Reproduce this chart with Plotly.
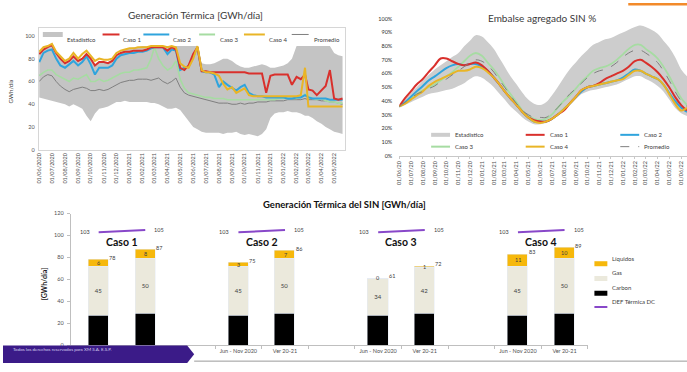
import pandas as pd
import plotly.graph_objects as go

W, H = 687, 372
FONT = "Lato, 'Open Sans', sans-serif"

# ---------------- Generación Térmica diaria [GWh/día] ----------------
meses_gen = pd.date_range("2020-06-01", "2022-05-01", freq="MS")
fechas_gen = [m + pd.Timedelta(days=d) for m in meses_gen for d in (0, 10, 20)]

gen_est_max = [85, 89, 90, 92, 86, 80, 77, 78, 82, 78,
               80, 84, 80, 75, 77, 77, 77, 79, 83, 86,
               88, 89, 90, 90, 91, 91, 91, 91, 91, 91,
               91, 91, 91, 91, 91, 91, 91, 91, 76, 75,
               75, 76, 78, 80, 80, 78, 75, 73, 72, 72,
               73, 74, 75, 74, 72, 72, 73, 74, 76, 80,
               91, 91, 91, 91, 91, 91, 91, 91, 91, 85,
               83, 82]
gen_est_min = [46, 45, 44, 43, 42, 41, 40, 38, 40, 38,
               36, 30, 25, 32, 36, 37, 38, 40, 42, 42,
               43, 42, 42, 42, 42, 42, 41, 41, 40, 38,
               36, 36, 37, 35, 30, 25, 20, 18, 16, 15,
               15, 15, 15, 14, 15, 15, 16, 14, 13, 14,
               13, 12, 14, 18, 28, 32, 33, 33, 34, 33,
               33, 32, 30, 30, 28, 25, 23, 20, 18, 16,
               15, 14]
gen_caso1 = [84, 88, 90, 92, 85, 80, 76, 78, 82, 78,
             80, 84, 80, 74, 77, 77, 76, 78, 83, 85,
             86, 86, 87, 87, 87, 88, 90, 90, 90, 90,
             87, 90, 88, 72, 70, 74, 84, 90, 69, 69,
             68, 68, 68, 68, 68, 68, 68, 68, 68, 67,
             67, 67, 67, 50, 65, 66, 66, 66, 66, 57,
             64, 62, 66, 53, 52, 48, 52, 56, 70, 45,
             44, 45]
gen_caso2 = [77, 85, 87, 88, 80, 74, 72, 75, 78, 74,
             77, 82, 75, 66, 72, 72, 72, 74, 80, 83,
             84, 85, 85, 86, 86, 87, 89, 90, 90, 90,
             84, 88, 87, 70, 72, 73, 82, 90, 69, 68,
             68, 66, 55, 60, 57, 54, 52, 55, 57, 50,
             48, 47, 47, 46, 46, 46, 46, 46, 45, 45,
             46, 46, 48, 46, 45, 45, 45, 45, 44, 44,
             44, 44]
gen_caso3 = [65, 68, 70, 70, 66, 64, 62, 60, 63, 62,
             64, 66, 60, 60, 62, 60, 61, 63, 65, 67,
             68, 68, 70, 70, 71, 72, 80, 90, 80, 74,
             70, 72, 78, 62, 54, 50, 49, 48, 47, 46,
             46, 45, 45, 45, 44, 44, 44, 44, 44, 44,
             44, 44, 44, 44, 44, 44, 45, 45, 45, 45,
             45, 46, 49, 47, 45, 44, 45, 43, 42, 42,
             41, 41]
gen_caso4 = [86, 90, 91, 93, 86, 82, 78, 80, 85, 80,
             84, 87, 82, 78, 80, 79, 79, 80, 85, 87,
             88, 89, 89, 90, 90, 90, 91, 91, 91, 91,
             90, 91, 90, 76, 73, 72, 80, 91, 70, 68,
             68, 67, 65, 58, 53, 55, 50, 52, 54, 48,
             47, 47, 47, 47, 47, 47, 47, 47, 47, 47,
             47, 48, 72, 38, 38, 38, 38, 38, 38, 38,
             38, 38]
gen_promedio = [60, 64, 66, 65, 60, 56, 53, 51, 53, 54,
                55, 54, 52, 52, 53, 52, 53, 55, 57, 59,
                60, 61, 61, 62, 62, 62, 61, 62, 63, 60,
                58, 60, 63, 55, 50, 48, 47, 46, 45, 44,
                43, 42, 41, 41, 41, 40, 40, 41, 40, 41,
                41, 42, 42, 42, 43, 43, 43, 43, 44, 44,
                44, 44, 45, 44, 44, 44, 43, 43, 42, 42,
                41, 40]

# ---------------- Embalse agregado SIN [%] ----------------
meses_emb = pd.date_range("2020-06-01", "2022-06-01", freq="MS")
fechas_emb = [m + pd.Timedelta(days=d) for m in meses_emb for d in (0, 15)]

emb_est_max = [36, 41, 46, 50, 55, 59, 63, 66, 69, 72,
               75, 80, 84, 88, 87, 83, 78, 71, 65, 58,
               52, 46, 41, 38, 37, 39, 44, 50, 57, 63,
               68, 73, 77, 81, 83, 85, 86, 88, 90, 92,
               94, 95, 94, 92, 89, 84, 79, 72, 63, 58]
emb_est_min = [35, 37, 39, 41, 43, 45, 46, 47, 48, 49,
               51, 53, 56, 58, 57, 54, 50, 45, 41, 36,
               32, 28, 25, 23, 23, 24, 26, 29, 33, 37,
               41, 45, 47, 48, 49, 50, 51, 52, 54, 56,
               58, 58, 56, 54, 51, 47, 41, 35, 31, 29]
emb_caso1 = [36, 42, 47, 52, 56, 61, 66, 71, 71, 69,
             67, 66, 67, 68, 66, 62, 57, 52, 47, 42,
             37, 32, 28, 26, 25, 25, 27, 30, 33, 38,
             43, 48, 50, 51, 53, 56, 58, 60, 62, 65,
             69, 70, 68, 65, 61, 56, 50, 43, 37, 33]
emb_caso2 = [36, 39, 43, 47, 51, 55, 58, 61, 64, 66,
             67, 66, 67, 67, 65, 62, 57, 52, 47, 42,
             37, 32, 28, 25, 25, 25, 27, 30, 34, 38,
             43, 47, 50, 51, 52, 53, 54, 55, 57, 60,
             63, 62, 60, 58, 56, 52, 46, 40, 35, 32]
emb_caso3 = [36, 39, 42, 45, 48, 50, 52, 55, 58, 61,
             65, 69, 73, 75, 73, 68, 63, 57, 51, 45,
             39, 33, 29, 27, 26, 27, 30, 35, 40, 44,
             49, 54, 58, 62, 64, 65, 67, 70, 74, 78,
             81, 81, 78, 75, 71, 65, 58, 50, 42, 37]
emb_caso4 = [36, 38, 41, 44, 47, 51, 54, 56, 58, 60,
             62, 62, 63, 65, 64, 61, 57, 52, 47, 42,
             37, 32, 28, 25, 24, 25, 27, 30, 34, 38,
             43, 48, 50, 51, 52, 53, 54, 55, 56, 59,
             62, 62, 60, 58, 56, 52, 45, 38, 33, 35]
emb_promedio = [36, 39, 42, 45, 47, 49, 51, 54, 56, 59,
                62, 65, 68, 70, 69, 66, 61, 55, 50, 44,
                38, 33, 30, 28, 28, 28, 31, 35, 40, 45,
                49, 53, 57, 60, 62, 63, 65, 68, 72, 75,
                77, 77, 75, 72, 68, 62, 55, 47, 40, 36]

# ---------------- Generación Térmica del SIN por caso ----------------
casos = ["Caso 1", "Caso 2", "Caso 3", "Caso 4"]
periodos = ["Jun - Nov 2020", "Ver 20-21"]
carbon = [27, 29, 27, 29, 27, 29, 27, 29]
gas = [45, 50, 45, 50, 34, 42, 45, 50]
liquidos = [6, 8, 3, 7, 0, 1, 11, 10]
def_termica = [103, 105, 103, 105, 103, 105, 103, 105]

# colours
C_EST = "#c4c4c4"
C_EST2 = "#cdcdcd"
C_C1 = "#d9302c"
C_C2 = "#2fa4dd"
C_C3 = "#a6dca2"
C_C4 = "#e9b526"
C_PROM = "#7f7f7f"
C_LIQ = "#f6b80c"
C_GAS = "#ebe9dc"
C_CAR = "#000000"
C_DEF = "#8848c9"


def px(x):
    return x / W


def py(y):
    return 1 - y / H


fig = go.Figure()

# --- top-left: thermal generation ---
fig.add_trace(go.Scatter(x=fechas_gen, y=gen_est_min, mode="lines", line=dict(width=0),
                         showlegend=False, hoverinfo="skip", xaxis="x", yaxis="y"))
fig.add_trace(go.Scatter(x=fechas_gen, y=gen_est_max, mode="lines", line=dict(width=0),
                         fill="tonexty", fillcolor=C_EST, name="Estadístico",
                         showlegend=False, xaxis="x", yaxis="y"))
for serie, color, wd in [(gen_promedio, C_PROM, 1.0), (gen_caso3, C_C3, 1.6),
                         (gen_caso2, C_C2, 2.0), (gen_caso1, C_C1, 2.0),
                         (gen_caso4, C_C4, 2.0)]:
    fig.add_trace(go.Scatter(x=fechas_gen, y=serie, mode="lines",
                             line=dict(color=color, width=wd),
                             showlegend=False, xaxis="x", yaxis="y"))

# --- top-right: reservoir level ---
fig.add_trace(go.Scatter(x=fechas_emb, y=emb_est_min, mode="lines", line=dict(width=0, shape="spline"),
                         showlegend=False, hoverinfo="skip", xaxis="x2", yaxis="y2"))
fig.add_trace(go.Scatter(x=fechas_emb, y=emb_est_max, mode="lines", line=dict(width=0, shape="spline"),
                         fill="tonexty", fillcolor=C_EST2, showlegend=False,
                         xaxis="x2", yaxis="y2"))
for serie, color, wd, dash in [(emb_caso3, C_C3, 1.8, "solid"), (emb_caso2, C_C2, 2.0, "solid"),
                               (emb_caso1, C_C1, 2.0, "solid"), (emb_caso4, C_C4, 2.0, "solid"),
                               (emb_promedio, C_PROM, 1.0, "dash")]:
    fig.add_trace(go.Scatter(x=fechas_emb, y=serie, mode="lines",
                             line=dict(color=color, width=wd, dash=dash, shape="spline"),
                             showlegend=False, xaxis="x2", yaxis="y2"))

# --- bottom: stacked thermal generation per case ---
pos = [3 * i + j for i in range(len(casos)) for j in range(len(periodos))]
totales = [c + g + l for c, g, l in zip(carbon, gas, liquidos)]
BW = 0.43
fig.add_trace(go.Bar(x=pos, y=carbon, width=BW, marker_color=C_CAR, name="Carbon",
                     showlegend=False, xaxis="x3", yaxis="y3"))
fig.add_trace(go.Bar(x=pos, y=gas, width=BW, marker_color=C_GAS, name="Gas",
                     text=[str(v) for v in gas], textposition="inside", insidetextanchor="middle",
                     textangle=0, textfont=dict(size=6, color="#404040"),
                     showlegend=False, xaxis="x3", yaxis="y3"))
fig.add_trace(go.Bar(x=pos, y=liquidos, width=BW, marker_color=C_LIQ, name="Líquidos",
                     showlegend=False, xaxis="x3", yaxis="y3"))
for i in range(len(casos)):
    xs = pos[2 * i:2 * i + 2]
    ys = def_termica[2 * i:2 * i + 2]
    fig.add_trace(go.Scatter(x=xs, y=ys, mode="lines", line=dict(color=C_DEF, width=2),
                             showlegend=False, xaxis="x3", yaxis="y3"))

ann = []
small = dict(size=5.5, color="#404040", family=FONT)
for k, x in enumerate(pos):
    base = carbon[k] + gas[k]
    ann.append(dict(x=x, y=base + liquidos[k] / 2, xref="x3", yref="y3", text=str(liquidos[k]),
                    showarrow=False, xanchor="center", font=small))
    ann.append(dict(x=x + BW / 2 - 0.03, y=totales[k] + 1.8, xref="x3", yref="y3", text=str(totales[k]),
                    showarrow=False, xanchor="left", font=small))
for i, caso in enumerate(casos):
    xa, xb = pos[2 * i], pos[2 * i + 1]
    ann.append(dict(x=xa - 0.15, y=def_termica[2 * i], xref="x3", yref="y3", text=str(def_termica[2 * i]),
                    showarrow=False, xanchor="right", font=small))
    ann.append(dict(x=xb + 0.15, y=def_termica[2 * i + 1], xref="x3", yref="y3",
                    text=str(def_termica[2 * i + 1]), showarrow=False, xanchor="left", font=small))
    ann.append(dict(x=(xa + xb) / 2, y=94, xref="x3", yref="y3", text="<b>" + caso + "</b>",
                    showarrow=False, xanchor="center", font=dict(size=10.5, color="#111111", family=FONT)))

# titles
ann += [
    dict(x=px(193), y=py(12), text="Generación Térmica [GWh/día]",
         font=dict(size=10, color="#3a3a3a", family=FONT)),
    dict(x=px(541), y=py(15), text="Embalse agregado SIN %",
         font=dict(size=10, color="#3a3a3a", family=FONT)),
    dict(x=px(343), y=py(205), text="<b>Generación Térmica del SIN [GWh/día]</b>",
         font=dict(size=9.5, color="#111111", family=FONT)),
    dict(x=px(8), y=py(90), text="GWh/día", textangle=-90,
         font=dict(size=6, color="#404040", family=FONT)),
    dict(x=px(42), y=py(285), text="<b>[GWh/día]</b>", textangle=-90,
         font=dict(size=7, color="#222222", family=FONT)),
]
for a in ann:
    if "xref" not in a:
        a.update(xref="paper", yref="paper", showarrow=False, xanchor="center", yanchor="middle")
ann.append(dict(x=px(8), y=py(357), xref="paper", yref="paper", showarrow=False,
                text="Todos los derechos reservados para XM S.A. E.S.P.", xanchor="left",
                font=dict(size=4.5, color="#d8d0f0", family=FONT)))

shapes = []
leg_font = dict(size=6, color="#404040", family=FONT)


def legend_entry(x0, x1, y, text, color, width, dash="solid", tx=None):
    shapes.append(dict(type="line", xref="paper", yref="paper", x0=px(x0), x1=px(x1),
                       y0=py(y), y1=py(y), line=dict(color=color, width=width, dash=dash)))
    ann.append(dict(x=px(tx if tx is not None else x1 + 2), y=py(y), xref="paper", yref="paper",
                    text=text, showarrow=False, xanchor="left", font=leg_font))


# legend of the thermal generation chart
for x0, x1, tx, name, color, wd in [(40, 60, 62, "Estadístico", C_EST, 5),
                                    (100, 117, 119, "Caso 1", C_C1, 2),
                                    (141, 167, 169, "Caso 2", C_C2, 2),
                                    (197, 213, 216, "Caso 3", C_C3, 2),
                                    (242, 263, 265, "Caso 4", C_C4, 2),
                                    (290, 307, 310, "Promedio", C_PROM, 1)]:
    legend_entry(x0, x1, 32, name, color, wd, tx=tx)

# legend of the reservoir chart
for x0, y, name, color, wd, dash in [(430, 134, "Estadístico", C_EST2, 4, "solid"),
                                     (525, 134, "Caso 1", C_C1, 2, "solid"),
                                     (620, 134, "Caso 2", C_C2, 2, "solid"),
                                     (430, 146, "Caso 3", C_C3, 2, "solid"),
                                     (525, 146, "Caso 4", C_C4, 2, "solid"),
                                     (620, 146, "Promedio", C_PROM, 1, "dash")]:
    legend_entry(x0, x0 + 19, y, name, color, wd, dash, tx=x0 + 22)

# legend of the stacked bars
for y, name, color, wd in [(265, "Líquidos", C_LIQ, 5), (280, "Gas", C_GAS, 5),
                           (295, "Carbon", C_CAR, 5), (309, "DEF Térmica DC", C_DEF, 2)]:
    legend_entry(594, 607, y, name, color, wd, tx=610)

# footer banner (drawn over the first case's period labels) and rule
shapes.append(dict(type="path", xref="paper", yref="paper",
                   path=f"M 0 {py(348)} L {px(185)} {py(348)} L {px(192)} {py(357)} "
                        f"L {px(185)} {py(366)} L 0 {py(366)} Z",
                   fillcolor="#3b1b88", line=dict(width=0), layer="above"))
shapes.append(dict(type="line", xref="paper", yref="paper", x0=px(192), x1=1,
                   y0=py(364), y1=py(364), line=dict(color="#9a9a9a", width=1)))
shapes.append(dict(type="rect", xref="paper", yref="paper", x0=px(628), x1=1,
                   y0=py(2.5), y1=1, fillcolor="#f28a2a", line=dict(width=0)))

tick_small = dict(size=5.5, color="#505050", family=FONT)
# period labels; the first case sits under the footer banner
ticktext_bar = [""] * len(periodos) + periodos * (len(casos) - 1)

fig.update_layout(
    width=W, height=H,
    margin=dict(l=0, r=0, t=0, b=0),
    paper_bgcolor="white", plot_bgcolor="white",
    barmode="stack", bargap=0,
    showlegend=False,
    font=dict(family=FONT),
    annotations=ann,
    shapes=shapes,
    xaxis=dict(domain=[px(36), px(344)], type="date",
               range=[pd.Timestamp("2020-05-31"), pd.Timestamp("2022-05-28")],
               tickvals=list(meses_gen), tickformat="%d/%m/%Y", tickangle=-90,
               tickfont=tick_small, showgrid=False, zeroline=False,
               showline=True, mirror=True, linecolor="#d6d6d6", linewidth=1, anchor="y"),
    yaxis=dict(domain=[py(149.3), py(25)], range=[0, 107.2],
               tickvals=[0, 20, 40, 60, 80, 100], tickfont=tick_small,
               showgrid=False, zeroline=False, showline=True, mirror=True,
               linecolor="#d6d6d6", ticklabelstandoff=2, anchor="x"),
    xaxis2=dict(domain=[px(398), 1], type="date",
                range=[pd.Timestamp("2020-06-01"), pd.Timestamp("2022-06-16")],
                tickvals=list(meses_emb), tickformat="%d/%m/%y", tickangle=-90,
                tickfont=tick_small, showgrid=False, zeroline=False,
                showline=True, linecolor="#c8c8c8", ticks="outside", ticklen=2,
                tickcolor="#c8c8c8", anchor="y2"),
    yaxis2=dict(domain=[py(155.3), py(16)], range=[0, 100], dtick=10, ticksuffix="%",
                tickfont=dict(size=5.5, color="#303030", family=FONT),
                showgrid=False, zeroline=False, showline=False,
                ticklabelstandoff=6, anchor="x2"),
    xaxis3=dict(domain=[px(68), px(587.4)], range=[-0.6, 10.5],
                tickvals=pos, ticktext=ticktext_bar, tickfont=tick_small,
                showgrid=False, zeroline=False, showline=True, linecolor="#bfbfbf",
                ticks="", minor=dict(tickvals=[k + 1.5 for k in range(-1, 10)], ticks="outside",
                                     ticklen=3, tickcolor="#bfbfbf"),
                anchor="y3"),
    yaxis3=dict(domain=[py(348), py(214)], range=[0, 120], tickvals=list(range(0, 121, 20)),
                tickfont=tick_small, showgrid=False, zeroline=False, showline=True,
                linecolor="#bfbfbf", ticks="outside", ticklen=3, tickcolor="#bfbfbf",
                ticklabelstandoff=2, anchor="x3"),
)

fig.write_html("out.html")
